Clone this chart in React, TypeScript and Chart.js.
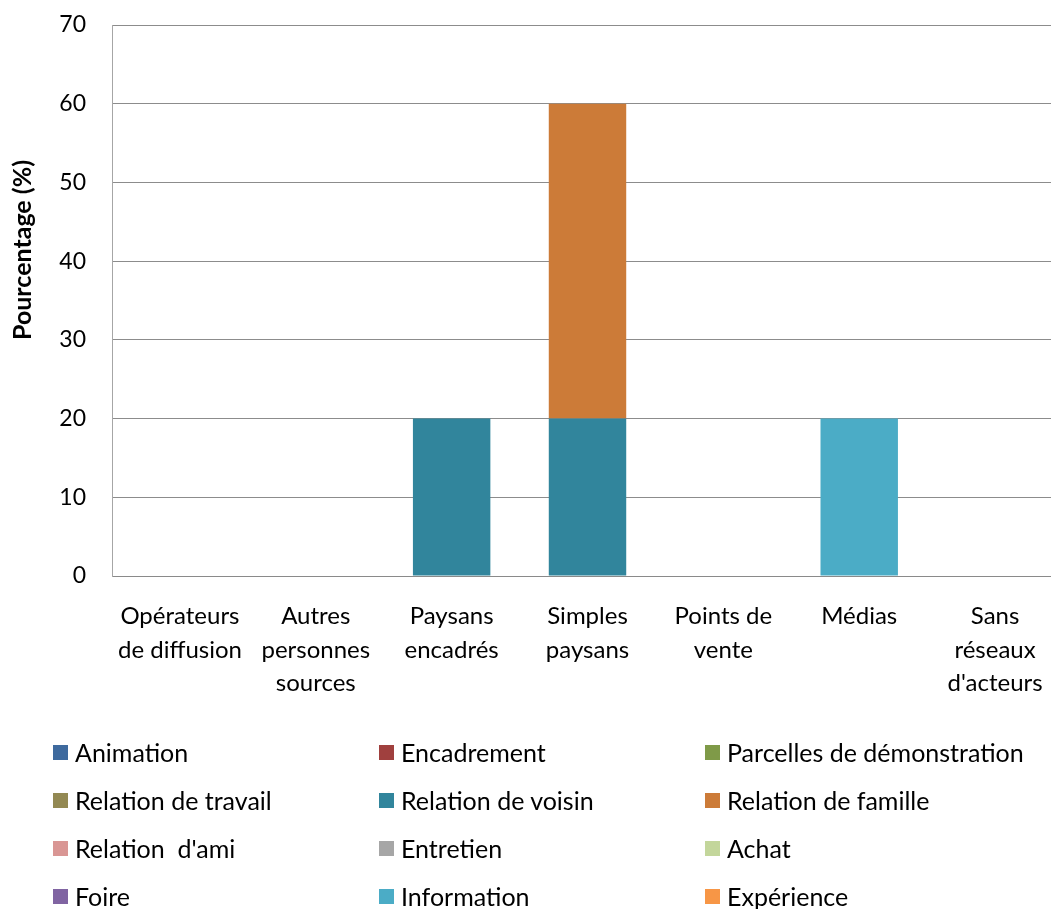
import React, { useEffect, useRef } from "react";
import { Chart, registerables } from "chart.js";

Chart.register(...registerables);

const categories: string[][] = [
  ["Opérateurs", "de diffusion"],
  ["Autres", "personnes", "sources"],
  ["Paysans", "encadrés"],
  ["Simples", "paysans"],
  ["Points de", "vente"],
  ["Médias"],
  ["Sans", "réseaux", "d'acteurs"],
];

const seriesNames: string[] = [
  "Animation",
  "Encadrement",
  "Parcelles de démonstration",
  "Relation de travail",
  "Relation de voisin",
  "Relation de famille",
  "Relation  d'ami",
  "Entretien",
  "Achat",
  "Foire",
  "Information",
  "Expérience",
];

const seriesColors: string[] = [
  "#3E6A9E",
  "#A0403E",
  "#7F9A48",
  "#938953",
  "#31859C",
  "#CC7B38",
  "#D99694",
  "#A6A6A6",
  "#C3D69B",
  "#8064A2",
  "#4BACC6",
  "#F79646",
];

const animation = [0, 0, 0, 0, 0, 0, 0];
const encadrement = [0, 0, 0, 0, 0, 0, 0];
const parcelles = [0, 0, 0, 0, 0, 0, 0];
const relationTravail = [0, 0, 0, 0, 0, 0, 0];
const relationVoisin = [0, 0, 20, 20, 0, 0, 0];
const relationFamille = [0, 0, 0, 40, 0, 0, 0];
const relationAmi = [0, 0, 0, 0, 0, 0, 0];
const entretien = [0, 0, 0, 0, 0, 0, 0];
const achat = [0, 0, 0, 0, 0, 0, 0];
const foire = [0, 0, 0, 0, 0, 0, 0];
const information = [0, 0, 0, 0, 0, 20, 0];
const experience = [0, 0, 0, 0, 0, 0, 0];

const seriesValues: number[][] = [
  animation,
  encadrement,
  parcelles,
  relationTravail,
  relationVoisin,
  relationFamille,
  relationAmi,
  entretien,
  achat,
  foire,
  information,
  experience,
];

const yTitle = "Pourcentage (%)";
const yMin = 0;
const yMax = 70;
const yStep = 10;

const FONT = "Lato, 'Open Sans', sans-serif";

const yTitlePlugin = {
  id: "yTitlePlugin",
  afterDraw(chart: any) {
    const ctx = chart.ctx;
    ctx.save();
    ctx.translate(23, 250);
    ctx.rotate(-Math.PI / 2);
    ctx.font = `bold 25px ${FONT}`;
    ctx.fillStyle = "#000";
    ctx.textAlign = "center";
    ctx.textBaseline = "middle";
    ctx.fillText(yTitle, 0, 0);
    ctx.restore();
  },
};

export default function App() {
  const canvasRef = useRef<HTMLCanvasElement | null>(null);

  useEffect(() => {
    if (!canvasRef.current) return;
    const chart = new Chart(canvasRef.current, {
      type: "bar",
      data: {
        labels: categories,
        datasets: seriesNames.map((name, i) => ({
          label: name,
          data: seriesValues[i],
          backgroundColor: seriesColors[i],
          borderWidth: 0,
          categoryPercentage: 1,
          barPercentage: 0.57,
        })),
      },
      options: {
        animation: false,
        responsive: true,
        maintainAspectRatio: false,
        layout: { padding: { top: 25, left: 0, right: 0, bottom: 0 } },
        plugins: {
          legend: { display: false },
          tooltip: { enabled: false },
          title: { display: false },
        },
        scales: {
          x: {
            stacked: true,
            grid: { display: false, drawTicks: false },
            border: { display: true, color: "#8a8a8a", width: 1 },
            ticks: {
              color: "#000",
              font: { family: FONT, size: 24, lineHeight: 1.39 },
              padding: 24,
              maxRotation: 0,
              autoSkip: false,
            },
            afterFit: (s: any) => {
              s.height = 333;
              s.paddingLeft = 0;
              s.paddingRight = 0;
            },
          },
          y: {
            stacked: true,
            min: yMin,
            max: yMax,
            ticks: {
              stepSize: yStep,
              color: "#000",
              font: { family: FONT, size: 23 },
              padding: 26,
            },
            grid: { color: "#8c8c8c", lineWidth: 1, drawTicks: false },
            border: { display: true, color: "#a6a6a6", width: 1 },
            afterFit: (s: any) => {
              s.width = 112;
              s.paddingTop = 0;
              s.paddingBottom = 0;
            },
          },
        },
      },
      plugins: [yTitlePlugin],
    });
    return () => chart.destroy();
  }, []);

  return (
    <div
      style={{
        position: "fixed",
        left: 0,
        top: 0,
        width: 1051,
        height: 909,
        overflow: "hidden",
        background: "#fff",
      }}
    >
      <div style={{ position: "absolute", left: 0, top: 0, width: 1063, height: 909 }}>
        <canvas ref={canvasRef} />
      </div>
      <div
        style={{
          position: "absolute",
          left: 53,
          top: 728,
          display: "grid",
          gridTemplateColumns: "326px 326px 340px",
          gridAutoRows: "48px",
          fontFamily: FONT,
          fontSize: 25,
          color: "#000",
        }}
      >
        {seriesNames.map((name, i) => (
          <div key={name} style={{ display: "flex", alignItems: "center", whiteSpace: "pre" }}>
            <span
              style={{
                display: "inline-block",
                width: 15,
                height: 15,
                background: seriesColors[i],
                marginRight: 7,
                flexShrink: 0,
              }}
            />
            <span>{name}</span>
          </div>
        ))}
      </div>
    </div>
  );
}
